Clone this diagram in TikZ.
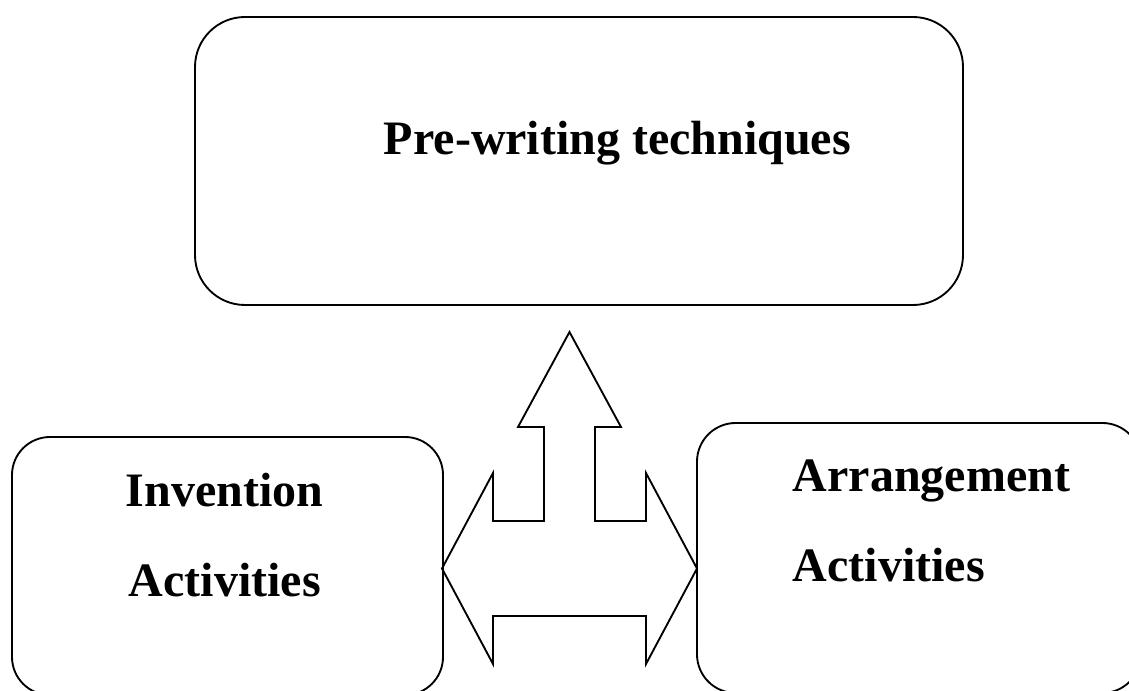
\documentclass[tikz,border=0pt]{standalone}
\usepackage{fontspec}
\setmainfont{Liberation Serif}
\begin{document}
\begin{tikzpicture}
	[x=0.75pt, y=-0.75pt, line width=1.4pt,
	block/.style={rectangle, draw=black, rounded corners=#1, inner sep=0pt},
	block/.default=28.5pt,
	caption/.style={anchor=base west, inner sep=0pt, font=\fontsize{36}{43}\selectfont\bfseries}];
	\clip (0,0) rectangle (1129,691);
	% the three boxes
	\node [block=37.5pt, minimum width=576pt, minimum height=216pt] (prewriting) at (579,161) {};
	\node [block, minimum width=323.25pt, minimum height=193.5pt] (invention) at (227.5,566) {};
	\node [block=29pt, minimum width=333pt, minimum height=202.5pt] (arrangement) at (919,558) {};
	% their texts
	\node [caption] (prewritingtext) at (383,155) {Pre-writing techniques};
	\node [caption] (inventiontext) at (125,507) {Invention};
	\node [caption] (inventionact) at (128,597) {Activities};
	\node [caption] (arrangementtext) at (792,492) {Arrangement};
	\node [caption] (arrangementact) at (792,582) {Activities};
	% three-way block arrow
	\draw [line join=miter] (569.5,332) -- (621,427) -- (595,427) -- (595,521) -- (646,521) -- (646,473)
		-- (697,568.5) -- (646,664) -- (646,616) -- (493,616) -- (493,664) -- (442,568.5)
		-- (493,473) -- (493,521) -- (544,521) -- (544,427) -- (518,427) -- cycle;
\end{tikzpicture}
\end{document}
